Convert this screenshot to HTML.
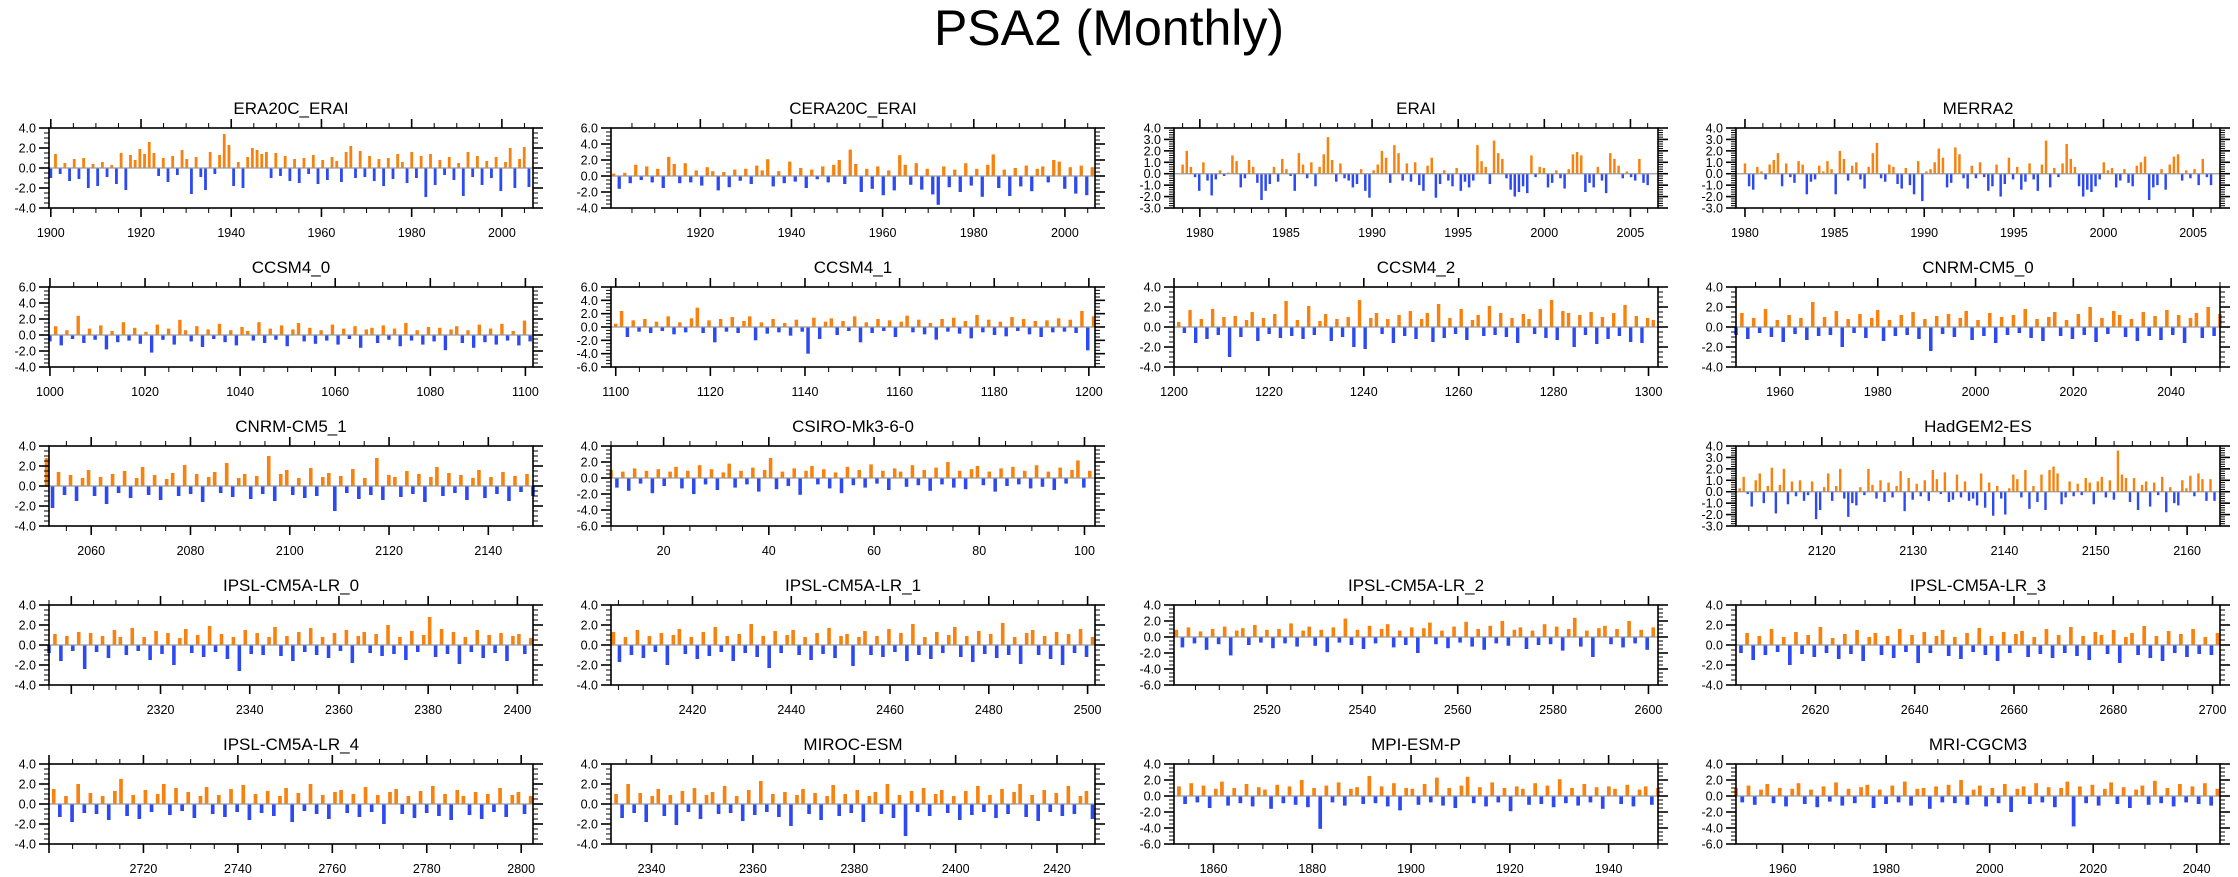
<!DOCTYPE html>
<html><head><meta charset="utf-8"><title>PSA2 (Monthly)</title>
<style>
html,body{margin:0;padding:0;background:#fff;}
svg{display:block;font-family:"Liberation Sans",Arial,sans-serif;}
</style></head>
<body>
<svg id="chart" width="2238" height="877" viewBox="0 0 2238 877" xmlns="http://www.w3.org/2000/svg">
<text x="1109" y="45" font-size="50" text-anchor="middle" fill="#000">PSA2 (Monthly)</text>
</svg>
<script>
// ---- data ----
const panelTitles = ["ERA20C_ERAI","CERA20C_ERAI","ERAI","MERRA2","CCSM4_0","CCSM4_1","CCSM4_2","CNRM-CM5_0","CNRM-CM5_1","CSIRO-Mk3-6-0","HadGEM2-ES","IPSL-CM5A-LR_0","IPSL-CM5A-LR_1","IPSL-CM5A-LR_2","IPSL-CM5A-LR_3","IPSL-CM5A-LR_4","MIROC-ESM","MPI-ESM-P","MRI-CGCM3"];
const xMin = [1899.6,1900.4,1978.5,1979.5,999.8,1099,1200,1951,2051.5,10,2110.6,2295,2403.5,2500.5,2604,2700,2332,1852,1951];
const xMax = [2006.9,2006.6,2006.6,2006.5,1101.6,1201.3,1302,2050,2149,102,2163.6,2403.5,2501.5,2602,2701.5,2802.5,2427.5,1950,2044.5];
const dataStart = [1900,1901,1979,1980,1000,1100,1201,1951,2051,10,2111,2295,2404,2501,2605,2701,2333,1853,1951];
const dataEnd = [2006,2006,2006,2006,1101,1201,1301,2050,2149,101,2163,2403,2501,2601,2701,2802,2427,1950,2044];
const xLabelStart = [1900,1920,1980,1980,1000,1100,1200,1960,2060,20,2120,2320,2420,2520,2620,2720,2340,1860,1960];
const xLabelStep = [20,20,5,5,20,20,20,20,20,20,10,20,20,20,20,20,20,20,20];
const xMinorStep = [5,5,1,1,5,5,5,5,5,5,2,5,5,5,5,5,5,5,5];
const yMin = [-4,-4,-3,-3,-4,-6,-4,-4,-4,-6,-3,-4,-4,-6,-4,-4,-4,-6,-6];
const yMax = [4,6,4,4,6,6,4,4,4,4,4,4,4,4,4,4,4,4,4];
const yLabelStep = [2,2,1,1,2,2,2,2,2,2,1,2,2,2,2,2,2,2,2];

const era20cVals = [-1.0,1.4,-0.6,0.5,-1.3,0.9,-1.1,1.0,-2.0,0.4,-1.8,0.6,-0.9,0.3,-1.6,1.5,-2.2,1.3,0.8,1.9,1.4,2.6,1.5,-0.8,1.0,-1.4,1.2,-0.7,1.8,0.9,-2.6,1.1,-0.9,-2.2,1.6,-0.6,1.3,3.4,2.3,-1.8,0.6,-2.0,1.1,2.0,1.8,1.4,1.6,-1.0,1.5,-0.8,1.2,-1.3,0.9,-1.5,1.0,-0.6,1.3,-1.6,0.8,-1.2,1.1,0.7,-1.4,1.6,2.2,-1.0,1.7,-0.9,1.2,-1.3,0.9,-1.8,1.0,-1.1,1.4,0.6,-1.5,1.6,-1.0,1.2,-2.9,1.4,-1.7,0.8,-0.7,1.1,-1.2,0.5,-2.8,1.6,-0.9,1.2,-1.7,0.7,-1.0,1.1,-2.3,0.6,2.0,-2.0,0.9,2.1,-1.9];
const cera20cVals = [0.3,-1.6,0.4,-0.9,1.4,-0.5,1.2,-0.8,0.9,-1.5,2.4,1.5,-0.9,1.6,-0.8,0.7,-1.2,1.1,0.6,-1.8,0.5,-1.4,0.8,-0.6,0.9,-1.0,1.3,0.7,2.1,-1.3,0.6,-0.9,1.8,-0.7,1.0,-1.5,0.8,-0.4,1.2,-0.8,1.4,2.0,-1.0,3.3,1.5,-2.0,0.9,-1.6,1.2,-2.4,0.7,-1.8,2.6,1.4,-1.1,1.6,-1.7,0.9,-2.3,-3.6,1.2,-1.4,0.8,-2.0,1.6,-1.2,0.9,-2.6,1.4,2.7,-1.5,0.8,-2.5,1.0,-1.3,1.3,-1.9,0.9,1.2,-0.8,2.0,1.8,-1.6,1.1,-2.2,1.3,-2.4,1.1];
const eraiVals = [0.8,2.0,0.6,-0.3,-1.5,1.0,-0.6,-1.9,-0.5,0.3,-0.2,0.1,1.6,1.1,-1.2,-0.4,1.2,0.6,-0.8,-2.3,-1.5,-0.9,0.6,-0.7,1.3,0.4,-0.2,-1.5,1.8,0.8,-0.4,1.0,-1.1,0.6,1.7,3.2,1.2,-0.7,0.9,-0.4,-0.6,-1.2,-0.9,0.4,-1.5,-2.1,0.3,0.8,2.0,1.4,-0.8,2.5,1.8,-0.6,0.9,-0.7,1.0,-1.0,-1.5,0.7,1.4,-2.1,-0.9,0.3,-0.6,-1.1,0.5,-1.5,-0.7,-1.2,-0.6,2.5,1.1,0.6,-0.9,2.9,1.8,1.3,-0.4,-1.4,-2.0,-1.6,-1.1,-1.7,1.6,-0.3,0.6,0.5,-1.2,-0.8,0.3,-0.4,-1.3,0.4,1.7,1.9,1.6,-1.6,-0.8,-1.2,0.6,-0.6,-1.7,1.8,1.3,0.7,-0.4,0.2,-0.3,-0.6,1.3,-0.8,-1.0];
const merra2Vals = [0.9,-1.1,-1.4,0.6,0.2,-0.5,0.8,1.2,1.8,-1.1,0.9,-0.3,-0.8,1.1,0.8,-1.8,-0.7,-0.5,0.7,0.2,1.1,0.4,-1.8,2.0,1.3,-0.6,0.7,1.0,-0.5,-1.3,0.6,1.8,2.7,-0.4,-0.7,0.8,0.6,-0.9,-1.3,0.5,-1.0,-1.8,1.1,-2.4,0.2,0.4,1.0,2.2,1.4,-1.2,-0.8,2.3,1.7,-0.4,-1.3,0.7,-0.4,1.0,-0.3,-1.5,-1.1,0.8,-2.0,-0.9,1.4,-0.5,0.6,-1.4,-0.7,0.9,-0.5,-1.5,0.8,2.9,-1.2,0.5,-0.3,0.9,2.6,1.3,0.6,-1.1,-2.0,-1.4,-1.6,-1.1,-0.5,1.0,0.3,0.5,-1.2,-0.6,0.4,-0.8,-1.1,0.7,1.0,1.5,-2.3,-1.2,-1.0,0.4,-1.4,0.8,1.5,1.7,-0.6,0.3,-0.4,0.4,-1.0,1.3,-0.3,-1.0];
const ccsm40Vals = [-0.8,1.1,-1.3,0.6,-0.5,2.4,-1.0,0.8,-0.6,1.2,-1.8,0.5,-0.9,1.6,-0.7,0.9,-1.1,0.4,-2.2,1.3,-0.6,0.8,-1.2,1.9,0.6,-0.8,1.1,-1.5,0.7,-0.5,1.4,-0.9,0.6,-1.3,1.0,0.5,-0.7,1.6,-1.0,0.8,-0.6,1.2,-1.4,0.7,1.5,-0.8,0.9,-1.1,0.6,-0.7,1.3,-1.2,0.8,-0.5,1.1,-1.6,0.7,0.9,-1.0,1.2,-0.6,0.8,-1.4,1.5,-0.7,0.6,-1.2,1.0,-0.8,0.9,-1.9,0.7,1.1,-1.0,0.6,-1.6,1.3,-0.9,0.8,-1.2,1.4,-0.7,0.5,-1.3,1.8,-0.8];
const ccsm41Vals = [0.5,2.4,-1.5,1.0,-0.7,1.2,-0.9,0.8,-0.6,1.6,-1.1,0.7,-0.8,1.3,2.9,-0.9,1.0,-2.3,1.2,-0.7,1.5,-0.9,0.9,1.6,-2.0,0.7,-1.0,1.2,-0.8,0.6,-1.3,1.1,-0.7,-4.0,1.4,-1.8,0.8,1.3,-1.2,0.9,-0.6,1.6,-2.3,0.7,-0.9,1.2,-0.6,1.0,-1.5,0.8,1.7,-0.8,1.1,-1.1,0.6,-1.9,1.2,-0.7,1.4,-1.0,0.9,-1.7,1.8,-0.8,1.1,-1.2,0.8,-1.4,1.5,-0.6,1.2,-1.1,0.9,-1.5,1.0,-0.8,1.3,-0.7,1.1,-0.9,2.4,-3.5,1.6];
const ccsm42Vals = [0.5,-0.6,1.7,-1.6,0.8,-1.2,1.8,-0.8,1.0,-3.0,1.1,-1.0,0.7,1.5,-1.4,0.9,-0.7,1.3,-1.1,2.6,-0.9,0.7,-1.2,2.1,-0.8,0.6,1.3,-1.4,0.8,-1.0,1.0,-2.0,2.7,-2.2,0.9,1.4,-0.7,0.8,-1.6,1.2,-0.9,1.6,-1.2,0.8,1.4,-1.5,2.3,-1.1,0.9,-0.7,1.8,-1.3,0.7,1.2,-0.9,2.1,-0.8,1.4,-1.0,0.9,-1.6,1.3,0.8,-0.7,1.8,-1.1,2.7,-1.3,1.6,1.4,-2.0,1.2,-0.8,1.5,-1.7,1.0,-1.2,1.4,-0.9,2.2,-1.5,1.1,-1.6,0.9,0.7];
const cnrm0Vals = [-0.8,1.4,-1.2,0.9,-0.6,1.8,-1.0,0.7,-1.5,1.2,-0.7,0.9,-1.3,2.5,-0.9,1.0,-0.8,1.6,-2.0,0.8,-0.6,1.3,-1.1,0.9,1.7,-1.4,0.7,-0.9,1.2,-0.8,1.5,-1.2,0.8,-2.4,1.1,-0.7,1.3,-1.0,0.9,1.6,-1.3,0.7,-0.9,1.4,-1.6,1.0,-0.8,1.2,-0.6,1.8,-1.1,0.8,-1.4,1.0,1.5,-0.9,0.7,-1.2,1.3,-0.8,2.0,-1.5,0.9,-0.7,1.6,1.2,-1.0,0.8,-1.4,1.5,-0.9,1.1,-1.3,1.7,-0.8,1.2,-1.6,0.9,1.4,-1.1,2.0,-0.9,1.3];
const cnrm1Vals = [2.8,-2.2,1.4,-0.9,1.1,-1.5,0.8,1.6,-1.0,0.9,-1.8,1.2,-0.7,1.5,-1.2,0.8,1.9,-0.9,1.1,-1.4,0.7,1.3,-1.0,2.1,-0.8,1.2,-1.6,0.9,1.4,-0.7,2.3,-1.1,0.8,1.2,-1.3,1.0,-0.8,3.0,-1.5,1.2,1.6,-0.9,0.8,-1.2,1.8,-1.0,0.9,1.3,-2.5,1.0,-0.7,1.7,-1.3,0.8,-0.9,2.8,-1.4,1.1,0.9,-1.1,1.5,-0.8,1.2,-1.6,0.9,1.9,-1.0,1.3,-0.7,1.1,-1.4,0.8,1.6,-1.2,0.9,-0.8,1.4,-1.5,1.0,-0.6,1.2,-1.0];
const csiroVals = [1.0,-1.2,0.8,-1.6,1.2,-0.7,0.9,-1.9,1.1,-1.0,0.8,1.4,-1.3,0.9,-2.0,1.6,-0.8,1.1,-1.5,0.7,1.8,-1.2,0.9,-0.8,1.3,-1.7,1.0,2.5,-1.4,0.8,-1.0,1.2,-2.1,0.9,1.5,-0.8,1.1,-1.3,0.7,-1.9,1.4,-0.9,1.0,-1.2,1.7,-0.7,0.9,-1.5,1.2,0.8,-1.1,1.6,-0.9,1.0,-1.6,1.3,-0.8,2.0,-1.2,0.9,-1.4,1.1,1.5,-0.9,0.8,-1.7,1.2,-1.0,1.4,-0.8,0.9,-1.3,1.6,-1.1,0.8,-1.5,1.3,-0.7,1.0,2.2,-1.2,0.9];
const hadgemVals = [0.3,1.3,-0.2,-1.3,1.0,1.6,-1.0,0.5,2.1,-1.9,0.6,2.0,-1.1,0.9,-0.4,1.0,-0.8,-0.3,0.9,-2.4,-1.6,0.4,1.6,-0.8,0.5,2.0,-0.6,-2.2,-1.0,-1.2,0.4,-0.3,2.0,0.6,-0.6,1.0,-0.9,0.8,-0.5,0.5,1.8,-1.7,1.2,-0.7,0.7,-0.4,1.0,-0.8,1.9,1.1,-0.2,1.7,-0.9,-0.7,1.5,-0.5,0.9,-0.8,-0.6,-1.2,1.6,-1.4,0.8,-2.1,0.5,-0.6,-2.0,0.3,1.5,1.1,-0.5,1.9,-1.5,0.5,-0.9,1.5,-1.6,1.9,2.2,1.6,-1.1,-0.5,0.9,-0.4,0.7,-0.3,1.2,0.8,-1.1,0.9,1.3,-0.5,1.0,-0.7,3.6,1.5,1.2,-0.9,1.2,-1.6,0.6,0.9,-1.3,0.8,-0.3,1.3,-1.8,0.4,-1.0,-1.2,1.0,0.3,1.4,-0.4,1.6,1.1,-0.8,1.1,-0.8];
const ipsl0Vals = [-0.8,1.1,-1.6,0.9,-0.6,1.3,-2.4,1.2,-0.7,0.9,-1.3,1.5,0.8,-1.0,1.7,-0.6,0.8,-1.5,1.4,-0.9,1.2,-2.0,0.7,1.6,-0.8,1.0,-1.2,1.9,-0.7,1.1,-1.4,0.8,-2.6,1.5,-0.9,1.2,-1.0,0.8,1.8,-1.1,0.9,-1.6,1.3,-0.7,1.7,-1.0,0.8,-1.3,1.2,-0.6,1.5,-1.8,0.9,1.3,-0.8,1.1,-1.1,2.0,-0.9,0.8,-1.5,1.4,-0.7,1.0,2.8,-1.2,1.6,-0.9,1.3,-1.9,0.8,-0.7,1.5,-1.3,1.0,-0.8,1.2,-1.6,0.9,1.1,-0.9,0.7];
const ipsl1Vals = [1.3,-1.7,0.8,-1.0,1.5,-1.3,0.9,-0.7,1.2,-2.0,1.0,1.6,-0.9,0.8,-1.4,1.3,-1.1,1.8,-0.7,0.9,-1.6,1.1,-0.8,2.1,-1.2,0.9,-2.3,1.4,-0.8,1.0,1.5,-1.0,0.8,-1.5,1.2,-0.9,1.7,-1.3,0.9,1.1,-2.1,0.8,1.4,-1.0,0.9,-1.2,1.6,-0.7,1.2,-1.6,2.1,-1.0,0.8,-1.4,1.3,-0.8,1.0,1.8,-1.2,0.9,-1.7,1.4,-0.9,1.1,-1.3,2.2,-1.0,0.8,-1.9,1.2,1.5,-1.0,0.9,-1.4,1.3,-2.0,1.1,-0.8,1.6,-1.2,0.8];
const ipsl2Vals = [0.9,-1.3,1.2,-0.8,0.7,-1.6,1.0,-0.9,1.3,-2.3,0.8,1.1,-1.0,1.5,-0.7,0.9,-1.4,1.0,-0.8,1.7,-1.2,0.8,1.3,-1.1,0.9,-1.9,1.2,-0.7,2.3,-1.0,0.9,-1.5,1.4,-0.8,1.0,1.6,-1.3,0.8,-1.0,1.2,-2.0,1.1,1.8,-0.9,0.8,-1.4,1.3,-0.7,1.9,-1.2,1.0,-1.6,1.4,-0.8,2.0,-1.1,0.9,1.2,-1.5,0.8,-1.0,1.6,-0.9,1.3,-1.7,1.0,2.4,-1.2,0.8,-2.5,1.1,1.4,-0.9,1.0,-1.3,2.0,-0.8,0.9,-1.6,1.2];
const ipsl3Vals = [-0.8,1.2,-1.5,0.9,-1.0,1.6,-0.7,0.8,-2.0,1.3,-0.9,1.0,-1.2,1.8,-0.8,0.7,-1.4,1.1,-0.9,1.5,-1.6,0.8,1.2,-1.0,0.9,-1.3,1.6,-0.7,1.0,-1.8,1.3,-0.8,0.9,1.5,-1.1,0.8,-1.4,1.2,-0.7,1.7,-1.0,0.9,-1.6,1.3,-0.8,1.1,1.4,-1.2,0.8,-0.9,1.6,-1.3,1.0,-0.8,1.8,-1.1,0.9,-1.5,1.3,1.0,-0.9,1.5,-1.8,0.8,1.2,-1.0,1.9,-1.3,0.9,-1.6,1.4,-0.8,1.1,-1.2,1.6,-0.9,0.8,-1.0,1.2];
const ipsl4Vals = [1.5,-1.3,0.8,-1.8,2.0,-0.9,1.1,-1.0,0.8,-1.6,1.3,2.5,-1.2,0.9,-1.5,1.4,-0.8,1.0,2.0,-1.1,1.6,-0.7,1.2,-1.4,0.8,1.7,-1.0,0.9,-1.3,1.5,-0.8,1.9,-1.6,1.0,-0.9,1.3,-1.2,0.8,1.6,-1.8,1.1,-0.7,2.0,-1.0,0.9,-1.5,1.2,1.4,-0.9,1.0,-1.3,1.7,-0.8,0.9,-2.0,1.2,1.5,-1.0,0.8,-1.4,1.3,-0.9,1.8,-1.2,1.0,-1.6,1.4,0.8,-1.1,1.2,-1.5,1.0,-0.8,1.6,-1.3,0.9,1.2,-1.0,0.8];
const mirocVals = [1.0,-1.4,2.0,-0.9,1.1,-1.8,0.8,1.5,-1.2,0.9,-2.1,1.3,-0.8,1.6,-1.5,0.9,1.2,-1.0,1.8,-0.9,0.8,-1.7,1.4,-1.1,2.3,-0.8,1.0,-1.3,1.2,-2.2,0.9,1.5,-1.0,1.1,-1.6,0.8,1.9,-1.2,1.0,-0.9,1.4,-1.8,0.8,1.2,-1.0,2.0,-1.4,0.9,-3.2,1.3,-0.8,1.6,-1.2,1.0,1.4,-0.9,0.8,-1.6,1.3,-1.1,1.8,-0.8,0.9,-1.4,1.5,-1.0,1.2,2.0,-1.3,0.9,-1.7,1.4,-0.8,1.1,-1.2,1.8,-1.0,0.8,1.3,-1.5];
const mpiVals = [1.2,-1.0,1.6,-0.8,1.3,-1.5,0.9,1.8,-1.2,1.0,-0.9,1.5,-1.3,1.1,0.8,-1.6,1.4,-0.9,1.2,-1.1,2.0,-1.4,1.0,-4.1,1.3,-0.8,1.7,-1.2,0.9,1.1,-1.0,2.5,-0.9,1.2,-1.3,1.6,-1.8,1.0,0.9,-1.1,1.5,-0.8,2.3,-1.2,1.0,-1.5,1.3,2.4,-0.9,1.1,-1.3,1.7,-0.8,1.0,-1.9,1.2,0.9,-1.1,1.6,-1.0,1.3,-1.4,2.1,-0.9,1.0,-1.2,1.5,-0.8,1.1,-1.6,1.2,0.9,-1.0,1.4,-1.3,0.8,1.2,-1.1,1.0];
const mriVals = [1.0,-0.8,1.3,-1.1,0.8,1.5,-0.9,1.0,-1.3,0.9,1.6,-1.0,0.8,-1.4,1.2,-0.7,1.7,-1.2,0.9,-0.9,1.1,1.4,-1.5,0.8,-1.0,1.3,-0.8,1.8,-1.2,0.9,1.0,-1.6,1.2,-0.8,1.4,-0.9,2.0,-1.1,0.8,1.3,-1.3,1.0,-0.9,1.5,-2.0,0.9,1.2,-1.0,1.6,-0.8,1.1,-1.4,1.0,1.8,-3.8,1.2,-0.9,1.4,-1.2,0.9,1.7,-1.0,1.1,-1.5,0.8,1.3,-1.1,1.9,-0.9,1.0,-1.3,1.5,-0.8,1.2,-1.0,1.6,-1.2,0.9];
const series = [era20cVals,cera20cVals,eraiVals,merra2Vals,ccsm40Vals,ccsm41Vals,ccsm42Vals,cnrm0Vals,cnrm1Vals,csiroVals,hadgemVals,ipsl0Vals,ipsl1Vals,ipsl2Vals,ipsl3Vals,ipsl4Vals,mirocVals,mpiVals,mriVals];

// ---- layout (not data) ----
const gridRow = [0,0,0,0,1,1,1,1,2,2,2,3,3,3,3,4,4,4,4];
const gridCol = [0,1,2,3,0,1,2,3,0,1,3,0,1,2,3,0,1,2,3];
const colLeft = [49,611,1174,1736];
const rowTop = [128,287,446,605,764];
const PW = 484, PH = 80;
const ORANGE = "#f7820f", BLUE = "#2d4af2";
const NS = "http://www.w3.org/2000/svg";
const svg = document.getElementById('chart');

function mk(tag, attrs, parent) {
  const e = document.createElementNS(NS, tag);
  for (const k in attrs) e.setAttribute(k, attrs[k]);
  parent.appendChild(e);
  return e;
}
function slug(s){return s.toLowerCase().replace(/[^a-z0-9]+/g,'-').replace(/-+$/,'');}

panelTitles.forEach((title, p) => {
  const L = colLeft[gridCol[p]], T = rowTop[gridRow[p]];
  const R = L + PW, B = T + PH;
  const xs = v => L + (v - xMin[p]) / (xMax[p] - xMin[p]) * PW;
  const ys = v => B - (v - yMin[p]) / (yMax[p] - yMin[p]) * PH;
  const g = mk('g', {}, svg);
  
  

  const t = mk('text', {x: L + PW/2, y: T - 14, 'font-size': 17, 'text-anchor': 'middle', fill: '#000'}, g);
  t.textContent = title;
  
  

  // bars
  const vals = series[p];
  const n = vals.length;
  const stepYr = (dataEnd[p] - dataStart[p]) / (n - 1);
  const bw = Math.max(1.2, Math.abs(xs(dataStart[p] + stepYr) - xs(dataStart[p])) * 0.6);
  const bars = mk('g', {}, g);
  
  
  vals.forEach((v, i) => {
    const cx = xs(dataStart[p] + i * stepYr);
    const y0 = ys(0), y1 = ys(v);
    const r = mk('rect', {x: (cx - bw/2).toFixed(2), y: Math.min(y0, y1).toFixed(2), width: bw.toFixed(2), height: Math.abs(y1 - y0).toFixed(2), fill: v >= 0 ? ORANGE : BLUE}, bars);
    
    
  });

  // zero line
  const z = mk('line', {x1: L, x2: R, y1: ys(0), y2: ys(0), stroke: '#9a9a9a', 'stroke-width': 1.2}, g);
  
  

  // x ticks
  const ax = mk('g', {stroke: '#000', 'stroke-width': 1}, g);
  
  
  const mnr = xMinorStep[p];
  for (let v = Math.ceil(xMin[p] / mnr) * mnr; v <= xMax[p]; v += mnr) {
    const major = ((v - xLabelStart[p]) % xLabelStep[p] === 0);
    const len = major ? 9 : 5;
    const x = xs(v);
    mk('line', {x1: x, x2: x, y1: B, y2: B + len, 'stroke-width': major ? 1.6 : 1}, ax);
    mk('line', {x1: x, x2: x, y1: T, y2: T - len, 'stroke-width': major ? 1.6 : 1}, ax);
    if (major && v >= xLabelStart[p]) {
      const lb = mk('text', {x: x, y: B + 29, 'font-size': 12.5, 'text-anchor': 'middle', fill: '#000', stroke: 'none'}, ax);
      lb.textContent = String(v);
      
      
    }
  }
  // y ticks
  const ay = mk('g', {stroke: '#000', 'stroke-width': 1}, g);
  
  
  const ymn = yLabelStep[p] / (yLabelStep[p] === 1 ? 5 : 4);
  const nMinor = Math.round((yMax[p] - yMin[p]) / ymn);
  for (let k = 0; k <= nMinor; k++) {
    const v = yMin[p] + k * ymn;
    const major = Math.abs(((v - yMin[p]) / yLabelStep[p]) - Math.round((v - yMin[p]) / yLabelStep[p])) < 1e-6;
    const len = major ? 10 : 5;
    const y = ys(v);
    mk('line', {x1: L - len, x2: L, y1: y, y2: y, 'stroke-width': major ? 1.6 : 1}, ay);
    mk('line', {x1: R, x2: R + len, y1: y, y2: y, 'stroke-width': major ? 1.6 : 1}, ay);
    if (major) {
      const lb = mk('text', {x: L - 13, y: y + 4.5, 'font-size': 12.5, 'text-anchor': 'end', fill: '#000', stroke: 'none'}, ay);
      lb.textContent = v.toFixed(1);
      
      
    }
  }
  const fr = mk('rect', {x: L, y: T, width: PW, height: PH, fill: 'none', stroke: '#000', 'stroke-width': 1.6}, g);
  
  
});
</script>
</body></html>
